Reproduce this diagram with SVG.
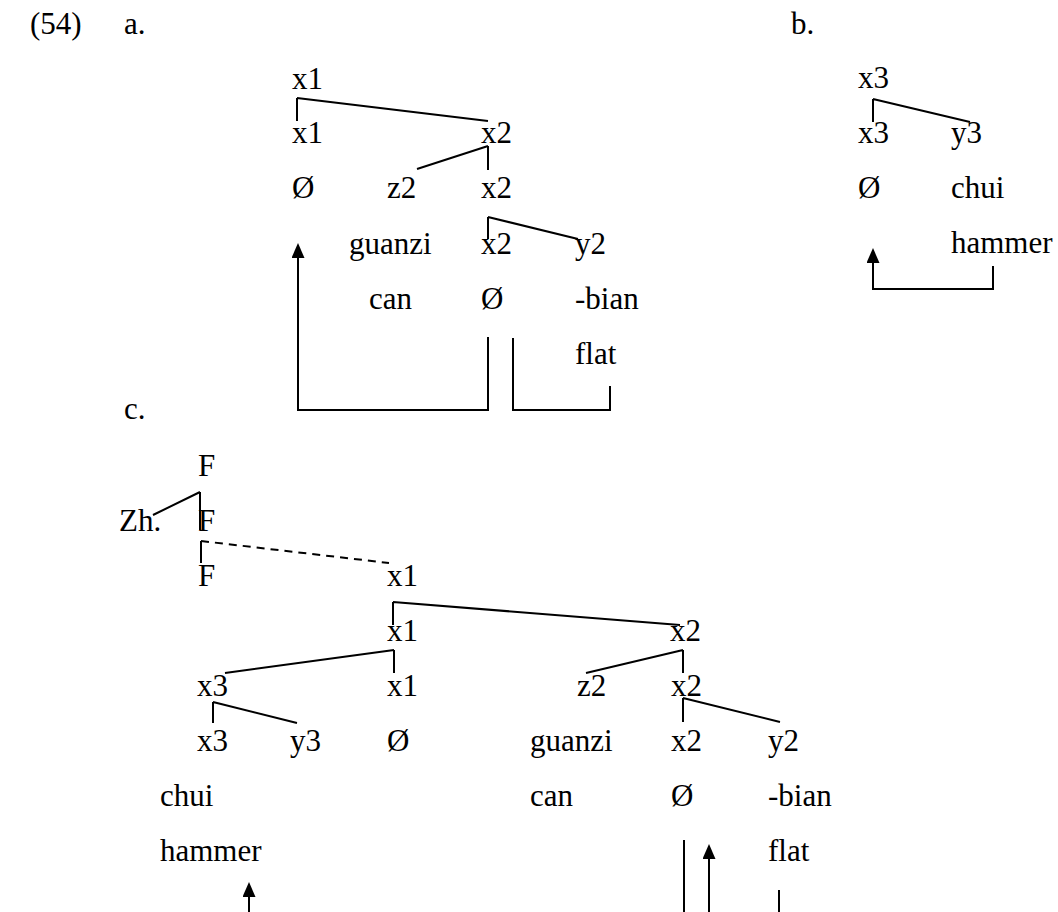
<svg xmlns="http://www.w3.org/2000/svg" width="1058" height="912" viewBox="0 0 1058 912">
<style>
.t{font-family:'Liberation Serif','Times New Roman',Times,serif;font-size:31px;fill:#000}
.c{fill:none;stroke:#000;stroke-width:2}
.d{fill:none;stroke:#000;stroke-width:2;stroke-dasharray:8 6}
</style>
<defs>
<marker id="ah" markerUnits="userSpaceOnUse" markerWidth="15" markerHeight="13" viewBox="0 0 15 13" refX="0" refY="6.5" orient="auto">
<path d="M0,0 L15,6.5 L0,13 z" fill="#000"/>
</marker>
</defs>
<rect width="1058" height="912" fill="#fff"/>
<g class="t" font-family="Liberation Serif, Times New Roman, serif">
<g id="labels">
<text x="30" y="34">(54)</text>
<text x="124" y="34">a.</text>
<text x="791" y="34">b.</text>
<text x="124" y="419">c.</text>
</g>
<g id="tree-a">
<g id="a-x1-top"><text x="292" y="89">x1</text></g>
<g id="a-x1"><text x="292" y="143">x1</text></g>
<g id="a-x2"><text x="481" y="143">x2</text></g>
<g id="a-null1"><text x="292" y="198">Ø</text></g>
<g id="a-z2"><text x="387" y="198">z2</text></g>
<g id="a-x2b"><text x="481" y="198">x2</text></g>
<g id="a-guanzi"><text x="349" y="254">guanzi</text></g>
<g id="a-x2c"><text x="481" y="254">x2</text></g>
<g id="a-y2"><text x="575" y="254">y2</text></g>
<g id="a-can"><text x="369" y="309">can</text></g>
<g id="a-null2"><text x="481" y="309">Ø</text></g>
<g id="a-bian"><text x="575" y="309">-bian</text></g>
<g id="a-flat"><text x="575" y="364">flat</text></g>
</g>
<g id="tree-b">
<g id="b-x3-top"><text x="858" y="88">x3</text></g>
<g id="b-x3"><text x="858" y="143">x3</text></g>
<g id="b-y3"><text x="951" y="143">y3</text></g>
<g id="b-null"><text x="858" y="198">Ø</text></g>
<g id="b-chui"><text x="951" y="198">chui</text></g>
<g id="b-hammer"><text x="951" y="253">hammer</text></g>
</g>
<g id="tree-c">
<g id="c-F1"><text x="198" y="476">F</text></g>
<g id="c-Zh"><text x="119" y="531">Zh.</text></g>
<g id="c-F2"><text x="198" y="531">F</text></g>
<g id="c-F3"><text x="198" y="586">F</text></g>
<g id="c-x1a"><text x="387" y="586">x1</text></g>
<g id="c-x1b"><text x="387" y="641">x1</text></g>
<g id="c-x2a"><text x="670" y="641">x2</text></g>
<g id="c-x3a"><text x="197" y="696">x3</text></g>
<g id="c-x1c"><text x="387" y="696">x1</text></g>
<g id="c-z2"><text x="577" y="696">z2</text></g>
<g id="c-x2b"><text x="671" y="696">x2</text></g>
<g id="c-x3b"><text x="197" y="751">x3</text></g>
<g id="c-y3"><text x="290" y="751">y3</text></g>
<g id="c-null1"><text x="387" y="751">Ø</text></g>
<g id="c-guanzi"><text x="530" y="751">guanzi</text></g>
<g id="c-x2c"><text x="671" y="751">x2</text></g>
<g id="c-y2"><text x="768" y="751">y2</text></g>
<g id="c-chui"><text x="160" y="806">chui</text></g>
<g id="c-can"><text x="530" y="806">can</text></g>
<g id="c-null2"><text x="671" y="806">Ø</text></g>
<g id="c-bian"><text x="768" y="806">-bian</text></g>
<g id="c-hammer"><text x="160" y="861">hammer</text></g>
<g id="c-flat"><text x="768" y="861">flat</text></g>
</g>
</g>
<g id="connectors">
<path class="c" d="M297,98 V121 M297,98 L488,121"/>
<path class="c" d="M488,146 V170 M488,146 L417,169"/>
<path class="c" d="M488,217 V239 M488,217 L578,239"/>
<path class="c" d="M488,337 V410 H298 V258" marker-end="url(#ah)"/>
<path class="c" d="M513,338 V410 H610 V386"/>
<path class="c" d="M873,99 V122 M873,99 L970,122"/>
<path class="c" d="M993,266 V289 H873 V263" marker-end="url(#ah)"/>
<path class="c" d="M200,492 V530 M200,492 L153,515"/>
<path class="c" d="M201,541 V563"/>
<path class="d" d="M201,541 L389,563"/>
<path class="c" d="M393,602 V625 M393,602 L680,625"/>
<path class="c" d="M394,650 V673 M394,650 L225,673"/>
<path class="c" d="M683,650 V673 M683,650 L586,673"/>
<path class="c" d="M213,702 V723 M213,702 L297,723"/>
<path class="c" d="M683,698 V722 M683,698 L780,722"/>
<path class="c" d="M249,912 V897" marker-end="url(#ah)"/>
<path class="c" d="M684,840 V912"/>
<path class="c" d="M709,912 V859" marker-end="url(#ah)"/>
<path class="c" d="M779,890 V912"/>
</g>
</svg>
